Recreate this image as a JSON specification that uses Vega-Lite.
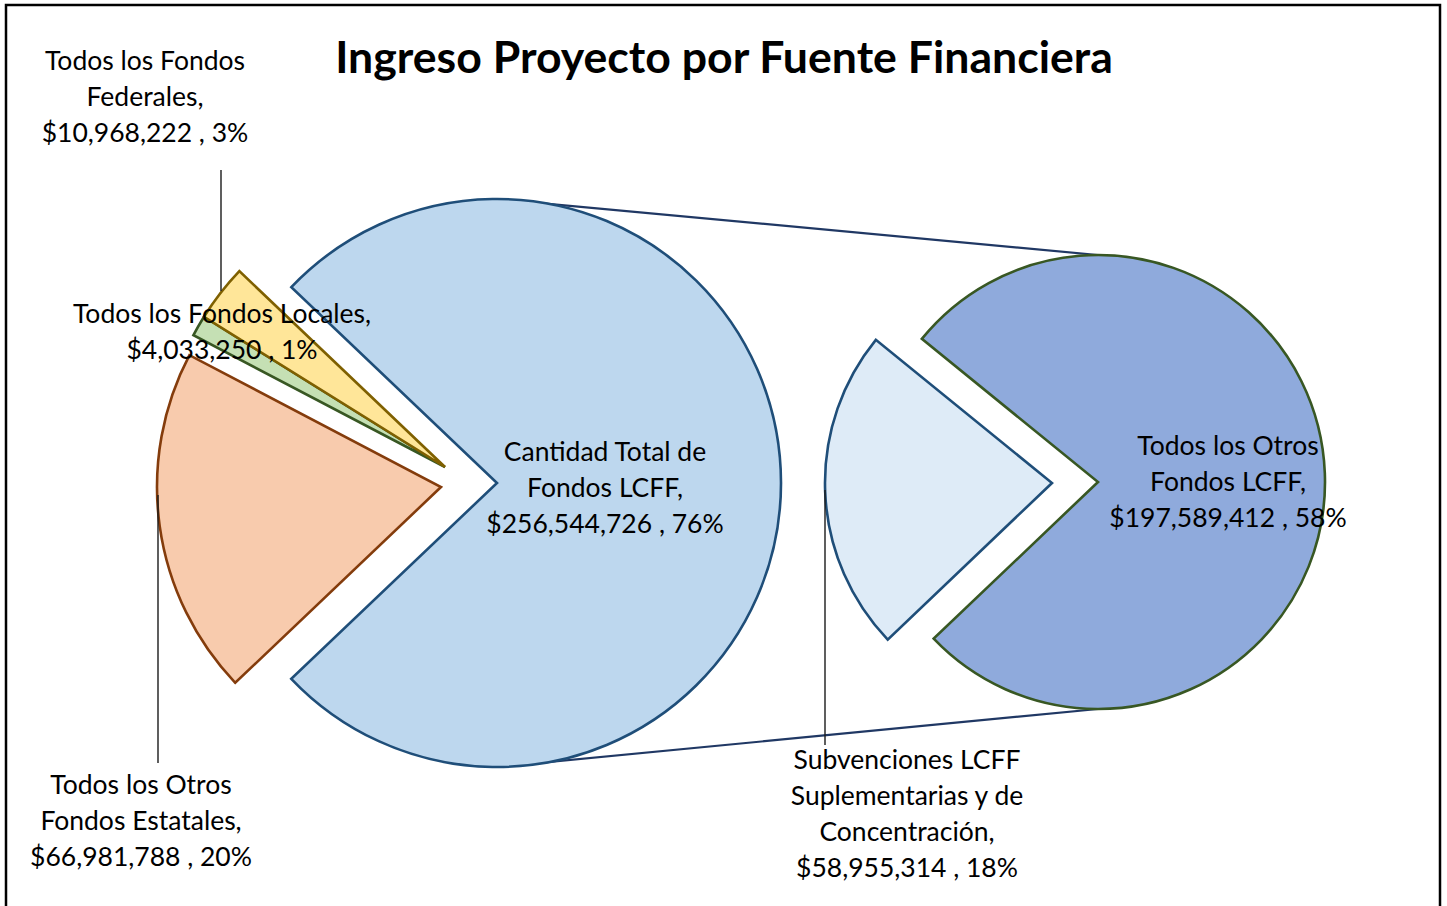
{
  "$schema": "https://vega.github.io/schema/vega-lite/v6.json",
  "autosize": {"type": "none"},
  "width": 1434,
  "height": 910,
  "padding": {"left": 6, "top": 5, "right": 7, "bottom": 0},
  "background": "white",
  "config": {
    "view": {"stroke": null},
    "text": {"font": "Lato", "fontSize": 26.5, "color": "#000000", "lineHeight": 36, "align": "center", "baseline": "middle", "lineBreak": "\n"}
  },
  "data": {"name": "fuentes"},
  "datasets": {
    "fuentes": [
      {"fuente": "Cantidad Total de Fondos LCFF", "monto": 256544726, "pct": "76%", "pastel": "Principal", "etiqueta": "Cantidad Total de\nFondos LCFF,\n$256,544,726 , 76%"},
      {"fuente": "Todos los Otros Fondos Estatales", "monto": 66981788, "pct": "20%", "pastel": "Principal", "etiqueta": "Todos los Otros\nFondos Estatales,\n$66,981,788 , 20%"},
      {"fuente": "Todos los Fondos Locales", "monto": 4033250, "pct": "1%", "pastel": "Principal", "etiqueta": "Todos los Fondos Locales,\n$4,033,250 , 1%"},
      {"fuente": "Todos los Fondos Federales", "monto": 10968222, "pct": "3%", "pastel": "Principal", "etiqueta": "Todos los Fondos\nFederales,\n$10,968,222 , 3%"},
      {"fuente": "Todos los Otros Fondos LCFF", "monto": 197589412, "pct": "58%", "pastel": "Secundario", "etiqueta": "Todos los Otros\nFondos LCFF,\n$197,589,412 , 58%"},
      {"fuente": "Subvenciones LCFF Suplementarias y de Concentración", "monto": 58955314, "pct": "18%", "pastel": "Secundario", "etiqueta": "Subvenciones LCFF\nSuplementarias y de\nConcentración,\n$58,955,314 , 18%"}
    ]
  },
  "resolve": {"scale": {"theta": "independent"}},
  "layer": [
    {
      "data": {"values": [{"marco": "borde"}]},
      "mark": {"type": "rect", "filled": false, "stroke": "#000000", "strokeWidth": 2.5},
      "encoding": {"x": {"value": 0}, "x2": {"value": "width"}, "y": {"value": 0}, "y2": {"value": "height"}}
    },
    {
      "data": {"values": [{"serie": "superior"}]},
      "mark": {"type": "rule", "stroke": "#203864", "strokeWidth": 2.2},
      "encoding": {"x": {"value": 491}, "y": {"value": 194}, "x2": {"value": 1092}, "y2": {"value": 250}}
    },
    {
      "data": {"values": [{"serie": "inferior"}]},
      "mark": {"type": "rule", "stroke": "#203864", "strokeWidth": 2.2},
      "encoding": {"x": {"value": 491}, "y": {"value": 762}, "x2": {"value": 1092}, "y2": {"value": 704}}
    },
    {
      "transform": [
        {"filter": "datum.pastel === 'Principal'"},
        {"stack": "monto", "groupby": [], "offset": "normalize", "as": ["t0", "t1"]},
        {"filter": "datum.fuente === 'Cantidad Total de Fondos LCFF'"}
      ],
      "mark": {"type": "arc", "x": 491, "y": 478, "outerRadius": 284, "strokeWidth": 2.6, "strokeJoin": "miter"},
      "encoding": {
        "theta": {"field": "t0", "type": "quantitative", "stack": null, "scale": {"domain": [0, 1], "range": [-0.8098, 5.4734]}},
        "theta2": {"field": "t1"},
        "fill": {"field": "fuente", "type": "nominal", "legend": null, "scale": {"domain": ["Cantidad Total de Fondos LCFF", "Todos los Otros Fondos Estatales", "Todos los Fondos Locales", "Todos los Fondos Federales", "Todos los Otros Fondos LCFF", "Subvenciones LCFF Suplementarias y de Concentración"], "range": ["#BDD7EE", "#F8CBAD", "#C5E0B4", "#FFE699", "#8FAADC", "#DEEBF7"]}},
        "stroke": {"field": "fuente", "type": "nominal", "legend": null, "scale": {"domain": ["Cantidad Total de Fondos LCFF", "Todos los Otros Fondos Estatales", "Todos los Fondos Locales", "Todos los Fondos Federales", "Todos los Otros Fondos LCFF", "Subvenciones LCFF Suplementarias y de Concentración"], "range": ["#1F4E79", "#843C0C", "#385723", "#7F6000", "#385723", "#1F4E79"]}}
      }
    },
    {
      "transform": [
        {"filter": "datum.pastel === 'Principal'"},
        {"stack": "monto", "groupby": [], "offset": "normalize", "as": ["t0", "t1"]},
        {"filter": "datum.fuente === 'Todos los Otros Fondos Estatales'"}
      ],
      "mark": {"type": "arc", "x": 435, "y": 482, "outerRadius": 284, "strokeWidth": 2.6, "strokeJoin": "miter"},
      "encoding": {
        "theta": {"field": "t0", "type": "quantitative", "stack": null, "scale": {"domain": [0, 1], "range": [-0.8098, 5.4734]}},
        "theta2": {"field": "t1"},
        "fill": {"field": "fuente", "type": "nominal", "legend": null},
        "stroke": {"field": "fuente", "type": "nominal", "legend": null}
      }
    },
    {
      "transform": [
        {"filter": "datum.pastel === 'Principal'"},
        {"stack": "monto", "groupby": [], "offset": "normalize", "as": ["t0", "t1"]},
        {"filter": "datum.fuente === 'Todos los Fondos Locales' || datum.fuente === 'Todos los Fondos Federales'"}
      ],
      "mark": {"type": "arc", "x": 439, "y": 462, "outerRadius": 284, "strokeWidth": 2.6, "strokeJoin": "miter"},
      "encoding": {
        "theta": {"field": "t0", "type": "quantitative", "stack": null, "scale": {"domain": [0, 1], "range": [-0.8098, 5.4734]}},
        "theta2": {"field": "t1"},
        "fill": {"field": "fuente", "type": "nominal", "legend": null},
        "stroke": {"field": "fuente", "type": "nominal", "legend": null}
      }
    },
    {
      "transform": [
        {"filter": "datum.pastel === 'Secundario'"},
        {"stack": "monto", "groupby": [], "offset": "normalize", "as": ["t0", "t1"]},
        {"filter": "datum.fuente === 'Todos los Otros Fondos LCFF'"}
      ],
      "mark": {"type": "arc", "x": 1092, "y": 477, "outerRadius": 227, "strokeWidth": 2.6, "strokeJoin": "miter"},
      "encoding": {
        "theta": {"field": "t0", "type": "quantitative", "stack": null, "scale": {"domain": [0, 1], "range": [-0.8884, 5.3948]}},
        "theta2": {"field": "t1"},
        "fill": {"field": "fuente", "type": "nominal", "legend": null},
        "stroke": {"field": "fuente", "type": "nominal", "legend": null}
      }
    },
    {
      "transform": [
        {"filter": "datum.pastel === 'Secundario'"},
        {"stack": "monto", "groupby": [], "offset": "normalize", "as": ["t0", "t1"]},
        {"filter": "datum.fuente === 'Subvenciones LCFF Suplementarias y de Concentración'"}
      ],
      "mark": {"type": "arc", "x": 1046, "y": 478, "outerRadius": 227, "strokeWidth": 2.6, "strokeJoin": "miter"},
      "encoding": {
        "theta": {"field": "t0", "type": "quantitative", "stack": null, "scale": {"domain": [0, 1], "range": [-0.8884, 5.3948]}},
        "theta2": {"field": "t1"},
        "fill": {"field": "fuente", "type": "nominal", "legend": null},
        "stroke": {"field": "fuente", "type": "nominal", "legend": null}
      }
    },
    {
      "transform": [{"filter": "datum.fuente === 'Todos los Fondos Federales'"}],
      "mark": {"type": "rule", "stroke": "#1a1a1a", "strokeWidth": 1.4},
      "encoding": {"x": {"value": 215}, "y": {"value": 165}, "y2": {"value": 286}}
    },
    {
      "transform": [{"filter": "datum.fuente === 'Todos los Otros Fondos Estatales'"}],
      "mark": {"type": "rule", "stroke": "#1a1a1a", "strokeWidth": 1.4},
      "encoding": {"x": {"value": 152}, "y": {"value": 490}, "y2": {"value": 758}}
    },
    {
      "transform": [{"filter": "datum.fuente === 'Subvenciones LCFF Suplementarias y de Concentración'"}],
      "mark": {"type": "rule", "stroke": "#1a1a1a", "strokeWidth": 1.4},
      "encoding": {"x": {"value": 819}, "y": {"value": 485}, "y2": {"value": 740}}
    },
    {
      "transform": [{"filter": "datum.fuente === 'Todos los Fondos Federales'"}],
      "mark": {"type": "text", "x": 139, "y": 57},
      "encoding": {"text": {"field": "etiqueta"}}
    },
    {
      "transform": [{"filter": "datum.fuente === 'Todos los Fondos Locales'"}],
      "mark": {"type": "text", "x": 216, "y": 310},
      "encoding": {"text": {"field": "etiqueta"}}
    },
    {
      "transform": [{"filter": "datum.fuente === 'Cantidad Total de Fondos LCFF'"}],
      "mark": {"type": "text", "x": 599, "y": 448},
      "encoding": {"text": {"field": "etiqueta"}}
    },
    {
      "transform": [{"filter": "datum.fuente === 'Todos los Otros Fondos Estatales'"}],
      "mark": {"type": "text", "x": 135, "y": 781},
      "encoding": {"text": {"field": "etiqueta"}}
    },
    {
      "transform": [{"filter": "datum.fuente === 'Subvenciones LCFF Suplementarias y de Concentración'"}],
      "mark": {"type": "text", "x": 901, "y": 756},
      "encoding": {"text": {"field": "etiqueta"}}
    },
    {
      "transform": [{"filter": "datum.fuente === 'Todos los Otros Fondos LCFF'"}],
      "mark": {"type": "text", "x": 1222, "y": 442},
      "encoding": {"text": {"field": "etiqueta"}}
    },
    {
      "data": {"values": [{"titulo": "Ingreso Proyecto por Fuente Financiera"}]},
      "mark": {"type": "text", "x": 718, "y": 55, "fontSize": 44.6, "fontWeight": "bold"},
      "encoding": {"text": {"field": "titulo"}}
    }
  ]
}
